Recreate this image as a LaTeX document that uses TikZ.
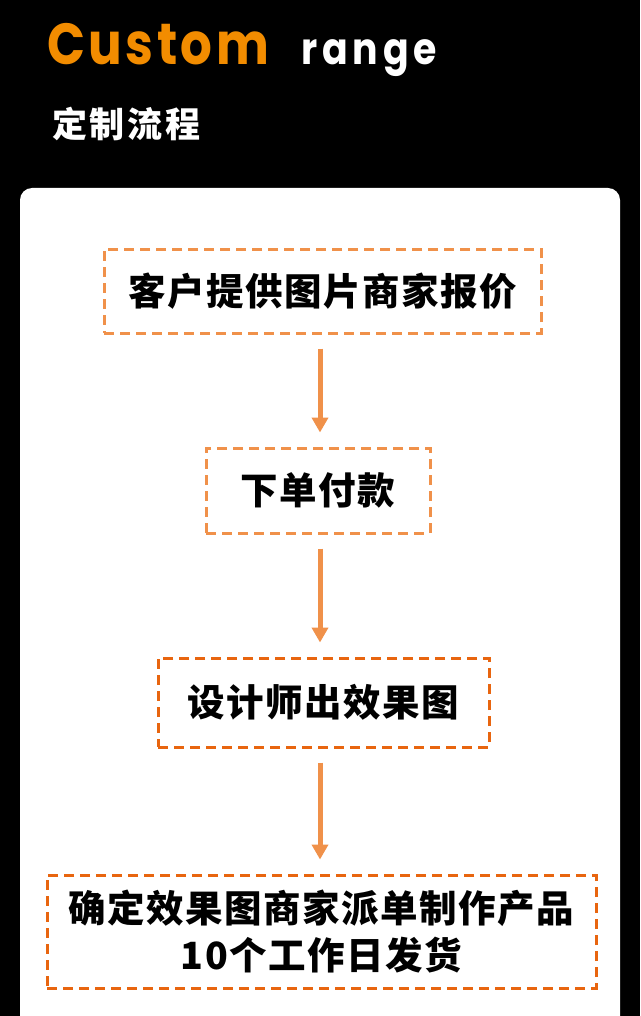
\documentclass[tikz,border=0pt]{standalone}
\usepackage{fontspec}
\usetikzlibrary{arrows.meta}
\newfontfamily\cjk[LetterSpace=4]{Noto Sans CJK SC}
\newfontfamily\cjkt[LetterSpace=8]{Noto Sans CJK SC}
\newfontfamily\popA[LetterSpace=6,FakeStretch=0.86]{Poppins}
\newfontfamily\popB[LetterSpace=11,FakeStretch=0.86]{Poppins}
\definecolor{ttl}{HTML}{F28C00}
\definecolor{lo}{HTML}{F0914A}
\definecolor{do}{HTML}{E8650F}
\begin{document}
\begin{tikzpicture}[x=1pt,y=-1pt,
  flow/.style={draw=#1, line width=3pt, dash pattern=on 10pt off 6pt, rectangle, inner sep=0pt,
    font=\cjk\bfseries\fontsize{37.5}{47}\selectfont, text=black, align=center},
  arr/.style={draw=lo, line width=5pt, -{Triangle[width=16pt,length=15pt]}, shorten <=14pt, shorten >=14pt}]
\useasboundingbox (0,0) rectangle (640,1016);
\fill[black] (0,0) rectangle (640,1016);
\fill[white, rounded corners=12pt] (20,188) rectangle (620,1040);
% titles
\node[anchor=base west, inner sep=0pt, text=ttl, font=\popA\bfseries\fontsize{58}{60}\selectfont] (t1) at (47,65) {Custom};
\node[anchor=base west, inner sep=0pt, text=white, font=\popB\bfseries\fontsize{44}{46}\selectfont] (t2) at (301,65) {range};
\node[anchor=west, inner sep=0pt, text=white, font=\cjkt\bfseries\fontsize{35}{36}\selectfont] (t3) at (52,124) {定制流程};
% boxes
\node[flow=lo, minimum width=437pt, minimum height=84pt] (b1) at (322.5,291) {客户提供图片商家报价};
\node[flow=lo, minimum width=224pt, minimum height=85pt] (b2) at (318,490.5) {下单付款};
\node[flow=do, minimum width=331pt, minimum height=89pt] (b3) at (323.5,702.5) {设计师出效果图};
\node[flow=do, minimum width=549pt, minimum height=113pt] (b4) at (321.5,931.5) {确定效果图商家派单制作产品\\10个工作日发货};
% arrows
\coordinate (ax) at (320,0);
\draw[arr] (ax |- b1.south) -- (ax |- b2.north);
\draw[arr] (ax |- b2.south) -- (ax |- b3.north);
\draw[arr] (ax |- b3.south) -- (ax |- b4.north);
\end{tikzpicture}
\end{document}
